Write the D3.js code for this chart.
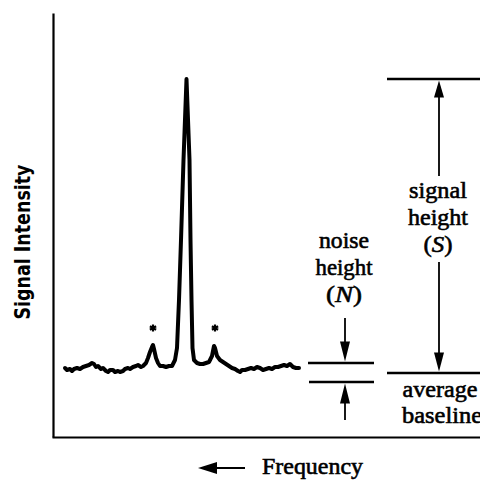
<!DOCTYPE html>
<html>
<head>
<meta charset="utf-8">
<script src="https://cdn.jsdelivr.net/npm/d3@7"></script>
<style>
  html, body { margin: 0; padding: 0; background: #fff; }
  svg { display: block; }
  .serif { font-family: "Liberation Serif", "DejaVu Serif", serif; fill: #000; stroke: #000; stroke-width: 0.6; }
</style>
</head>
<body>
<svg id="chart" width="480" height="481"></svg>
<script>
// ---- data (frequency offset, intensity relative to average baseline) ----
const frequency = [13,15,18,20,22,25,28,31,34,37,40,42,44,46,49,51,54,56,58,61,63,66,68,71,73,76,78,81,84,86,89,91,94,96,98,100,101,102,104,106,108,111,114,117,120,123,125,127,129,131.5,134.5,137.5,138.5,139.5,140.5,142,145,148,151,154,157,160,162,163,165,168,171,174,177,180,183,186,188,190,193,196,199,202,205,208,211,214,217,220,223,226,229,232,235,238,241,244,247];
const intensity = [2,0,1,-1,1,2,1,3,4,5,7,6,3,4,1,2,-1,-2,0,0,-2,-1,-2,-1,1,2,1,3,4,5,3,4,7,12,18,23,25,21,12,7,4,4,3,4,4,10,22,70,130,210,291,210,130,70,22,10,7,6,6,7,8,14,24,22,14,10,8,6,4,2,1,-1,-2,0,0,1,2,1,3,2,0,1,2,1,3,3,4,5,4,6,3,2,2];
const satellitePeaks = [101, 163];       // spinning sidebands marked with *
const asteriskLevel = 42;
const noiseTop = 7, noiseBottom = -12;    // peak-to-peak noise limits
const signalTop = 291, signalBase = -3;   // signal height limits
const axisLabels = { x: "Frequency", y: "Signal Intensity" };

const svg = d3.select("#chart");
const x = d3.scaleLinear().domain([0, 428]).range([52, 480]);
const y = d3.scaleLinear().domain([-67, 357]).range([437, 13]);

// axes (no ticks)
svg.append("g").attr("transform", `translate(${x(1)},0)`)
  .call(d3.axisLeft(y).ticks(0).tickSizeOuter(0))
  .call(g => g.select(".domain").attr("stroke", "#000").attr("stroke-width", 2.2));
svg.append("g").attr("transform", `translate(0,${y(-67)})`)
  .call(d3.axisBottom(x).ticks(0).tickSizeOuter(0))
  .call(g => g.select(".domain").attr("stroke", "#000").attr("stroke-width", 2.2));

// spectrum trace
const pts = frequency.map((f, i) => [f, intensity[i]]);
svg.append("path")
  .attr("d", d3.line().x(d => x(d[0])).y(d => y(d[1]))(pts))
  .attr("fill", "none").attr("stroke", "#000").attr("stroke-width", 4)
  .attr("stroke-linejoin", "round").attr("stroke-linecap", "round");

// asterisks
svg.selectAll(".ast").data(satellitePeaks).join("path")
  .attr("transform", d => `translate(${x(d)},${y(asteriskLevel)})`)
  .attr("d", d3.symbol(d3.symbolAsterisk, 36)())
  .attr("fill", "none").attr("stroke", "#000").attr("stroke-width", 2.2);

// helpers
function hline(f0, f1, v, w) {
  svg.append("line").attr("x1", x(f0)).attr("x2", x(f1)).attr("y1", y(v)).attr("y2", y(v))
    .attr("stroke", "#000").attr("stroke-width", w || 2.4);
}
function arrow(xp, yFrom, yTip, headLen, headW) {
  const dir = yTip > yFrom ? 1 : -1;
  svg.append("line").attr("x1", xp).attr("x2", xp).attr("y1", yFrom).attr("y2", yTip - dir * headLen * 0.8)
    .attr("stroke", "#000").attr("stroke-width", 1.8);
  svg.append("path")
    .attr("d", `M${xp},${yTip} L${xp - headW / 2},${yTip - dir * headLen} L${xp + headW / 2},${yTip - dir * headLen} Z`)
    .attr("fill", "#000");
}
function label(txt, cx, by, w, size) {
  const t = svg.append("text").attr("class", "serif").attr("x", cx).attr("y", by)
    .attr("text-anchor", "middle").attr("font-size", size || 23);
  if (w) t.attr("textLength", w).attr("lengthAdjust", "spacingAndGlyphs");
  return t;
}

// noise height
hline(256, 322, noiseTop);
hline(257, 322, noiseBottom);
const nx = x(293);
arrow(nx, 318, y(noiseTop) - 1.5, 20, 10);
arrow(nx, 420, y(noiseBottom) + 1.5, 20, 10);
label("noise", 344, 248, 50).text("noise");
label("height", 344, 275, 57).text("height");
(() => { const t = label("", 344, 302, 36); t.append("tspan").text("(");
  t.append("tspan").attr("font-style", "italic").text("N"); t.append("tspan").text(")"); })();

// signal height
hline(335, 428, signalTop);
hline(335, 428, signalBase);
const sx = x(387);
arrow(sx, 176, y(signalTop) + 1.5, 17, 10);
arrow(sx, 262, y(signalBase) - 1.5, 19, 10);
label("signal", 438, 198, 58).text("signal");
label("height", 438, 225, 60).text("height");
(() => { const t = label("", 438, 252, 29); t.append("tspan").text("(");
  t.append("tspan").attr("font-style", "italic").text("S"); t.append("tspan").text(")"); })();
label("average", 440, 397, 75).text("average");
svg.append("text").attr("class", "serif").attr("x", 402).attr("y", 423).attr("font-size", 23)
  .attr("textLength", 80).attr("lengthAdjust", "spacingAndGlyphs").text("baseline");

// frequency axis label with arrow
svg.append("line").attr("x1", 245).attr("x2", 210).attr("y1", 468).attr("y2", 468)
  .attr("stroke", "#000").attr("stroke-width", 1.8);
svg.append("path").attr("d", "M198,468 L217,462 L217,474 Z").attr("fill", "#000");
svg.append("text").attr("class", "serif").attr("x", 262).attr("y", 474).attr("font-size", 23)
  .attr("textLength", 101).attr("lengthAdjust", "spacingAndGlyphs").text(axisLabels.x);

// y axis label
svg.append("text")
  .attr("transform", "translate(30,242) rotate(-90)")
  .attr("text-anchor", "middle")
  .attr("font-family", "'DejaVu Sans Condensed', 'DejaVu Sans', sans-serif")
  .attr("font-weight", "bold").attr("font-size", 21)
  .attr("textLength", 155).attr("lengthAdjust", "spacingAndGlyphs")
  .text(axisLabels.y);
</script>
</body>
</html>
